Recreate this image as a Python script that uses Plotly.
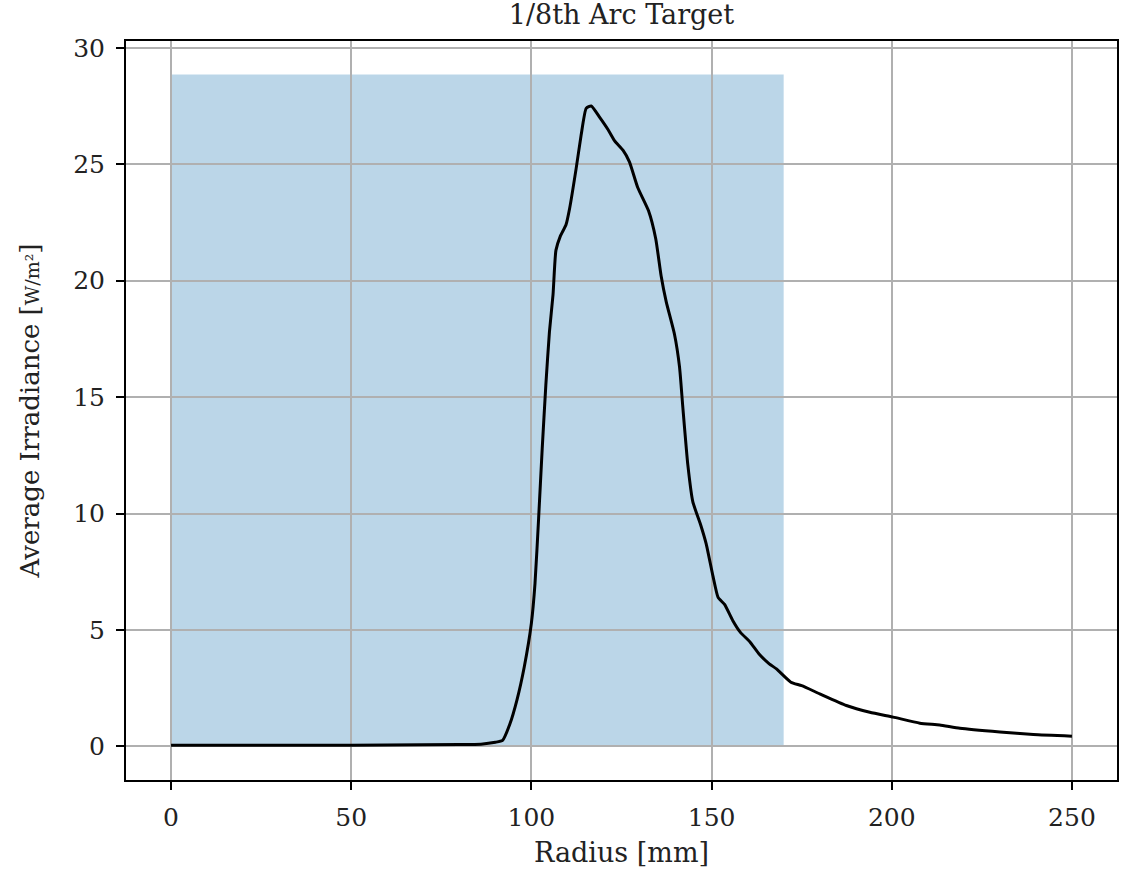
import plotly.graph_objects as go

# Radial irradiance profile on the 1/8th arc target
radius_mm = [0, 20, 40, 60, 80, 86, 90, 92, 94, 96, 98, 100, 101, 102, 103, 104,
             105, 106, 106.8, 108, 109.6, 110.6, 112.4, 113.8, 115.2, 116.6, 119,
             121.2, 123.1, 125.4, 127.2, 129.5, 132.5, 134.5, 136, 137.4, 139.7,
             141.1, 142, 143.4, 144.8, 147, 148.5, 150.4, 151.8, 153.6, 155.9,
             158, 160.6, 163.3, 166, 168, 172, 175, 180, 187.4, 193.9, 200.4,
             207.8, 213.3, 218.9, 230, 239.3, 250]
irradiance = [0.05, 0.05, 0.05, 0.06, 0.08, 0.10, 0.18, 0.26, 0.95, 2.0, 3.4, 5.3,
              7.0, 9.8, 12.8, 15.5, 17.8, 19.4, 21.3, 21.9, 22.4, 23.1, 24.8,
              26.25, 27.4, 27.5, 27.0, 26.5, 26.0, 25.6, 25.1, 24.0, 23.0, 21.8,
              20.2, 19.1, 17.7, 16.3, 14.6, 12.1, 10.5, 9.5, 8.7, 7.3, 6.4, 6.1,
              5.4, 4.9, 4.5, 3.95, 3.55, 3.33, 2.76, 2.61, 2.26, 1.76, 1.47, 1.26,
              1.0, 0.92, 0.78, 0.62, 0.51, 0.44]

# Shaded target region
target_span = [0, 170]
target_height = 28.85

x_ticks = [0, 50, 100, 150, 200, 250]
y_ticks = [0, 5, 10, 15, 20, 25, 30]

FONT = "DejaVu Serif"
TEXT = "#222"

fig = go.Figure()
fig.add_trace(go.Scatter(
    x=radius_mm, y=irradiance, mode="lines",
    line=dict(color="black", width=3, shape="spline", smoothing=0.5),
    showlegend=False, hoverinfo="x+y",
))

fig.add_shape(
    type="rect", xref="x", yref="y",
    x0=target_span[0], x1=target_span[1], y0=0, y1=target_height,
    fillcolor="rgba(31,119,180,0.3)", line=dict(width=0), layer="below",
)

axis_common = dict(
    showgrid=True, gridcolor="#b0b0b0", gridwidth=1.5,
    showline=True, linecolor="black", linewidth=2, mirror=True,
    ticks="outside", ticklen=8, tickwidth=2, tickcolor="black",
    zeroline=False,
    tickfont=dict(family=FONT, size=25, color=TEXT),
)

fig.update_xaxes(
    range=[-12.5, 262.5], tickvals=x_ticks,
    ticktext=[str(v) for v in x_ticks],
    title=dict(text="Radius [mm]", font=dict(family=FONT, size=27, color=TEXT),
               standoff=12),
    ticklabelstandoff=6,
    **axis_common,
)
fig.update_yaxes(
    range=[-1.44, 30.29], tickvals=y_ticks,
    ticktext=[str(v) for v in y_ticks],
    title=dict(text="Average Irradiance [<span style='font-size:19px'>W/m²</span>]",
               font=dict(family=FONT, size=26, color=TEXT), standoff=26),
    ticklabelstandoff=6,
    **axis_common,
)

fig.update_layout(
    width=1122, height=870,
    margin=dict(l=126, r=3, t=41, b=90),
    paper_bgcolor="white", plot_bgcolor="white",
    title=dict(text="1/8th Arc Target", x=0.5, xanchor="center",
               xref="paper", y=1 - 15 / 870, yanchor="middle",
               font=dict(family=FONT, size=27, color=TEXT)),
    font=dict(family=FONT),
)

fig.write_html("out.html")
